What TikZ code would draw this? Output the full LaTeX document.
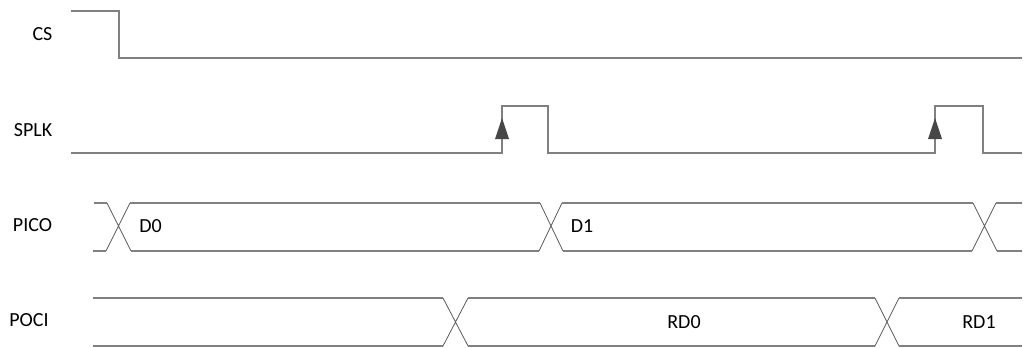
\documentclass[tikz,border=0pt]{standalone}
\usepackage{fontspec}
\setmainfont{Carlito}
\begin{document}
\begin{tikzpicture}[x=1pt,y=-1pt,
  wave/.style={draw=black!50,line width=1.3pt},
  cross/.style={draw=black!65,line width=0.8pt},
  lbl/.style={font=\fontsize{20}{23}\selectfont,inner sep=0pt},
  tip/.style={fill=black!72}]
\useasboundingbox (0,0) rectangle (1023,348);
% labels
\node[lbl] (cs) at (42.5,34) {CS};
\node[lbl] (splk) at (33,130) {SPLK};
\node[lbl] (pico) at (32.5,225) {PICO};
\node[lbl] (poci) at (29,320) {POCI};
\node[lbl] (d0) at (150.5,226.5) {D0};
\node[lbl] (d1) at (582,226.5) {D1};
\node[lbl] (rd0) at (684,322) {RD0};
\node[lbl] (rd1) at (979,322) {RD1};
% CS
\draw[wave] (71,11) -- (119,11) -- (119,58) -- (1022,58);
% SPLK
\draw[wave] (71,153) -- (502,153) -- (502,106) -- (548,106) -- (548,153) -- (935,153) -- (935,106) -- (983,106) -- (983,153) -- (1022,153);
\fill[tip] (502,118) -- (509,139) -- (495,139) -- cycle;
\fill[tip] (935,118) -- (942,139) -- (928,139) -- cycle;
% PICO
\draw[wave] (94,203) -- (107,203);
\draw[wave] (93,251) -- (106,251);
\draw[cross] (107,203) -- (131,251) (106,251) -- (130,203);
\draw[wave] (130,203) -- (540,203);
\draw[wave] (131,251) -- (539,251);
\draw[cross] (540,203) -- (563,251) (539,251) -- (562,203);
\draw[wave] (562,203) -- (973,203);
\draw[wave] (563,251) -- (972,251);
\draw[cross] (973,203) -- (997,251) (972,251) -- (996,203);
\draw[wave] (996,203) -- (1022,203);
\draw[wave] (997,251) -- (1022,251);
% POCI
\draw[wave] (93,298) -- (443,298);
\draw[wave] (93,346) -- (443,346);
\draw[cross] (443,298) -- (468,346) (443,346) -- (468,298);
\draw[wave] (468,298) -- (875,298);
\draw[wave] (468,346) -- (875,346);
\draw[cross] (875,298) -- (899,346) (875,346) -- (899,298);
\draw[wave] (899,298) -- (1022,298);
\draw[wave] (899,346) -- (1022,346);
\end{tikzpicture}
\end{document}
